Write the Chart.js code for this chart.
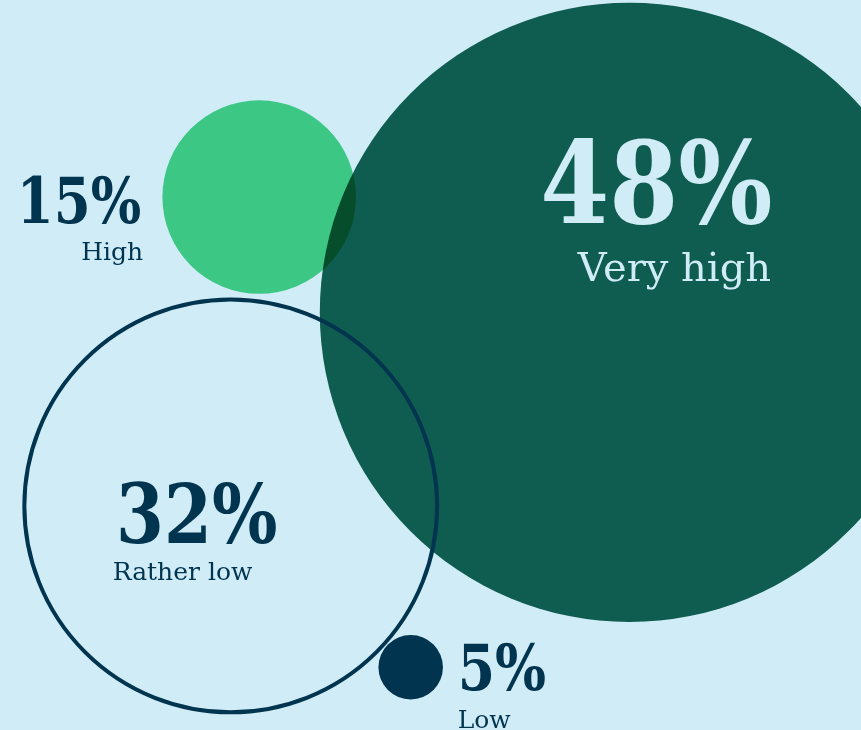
<!DOCTYPE html>
<html>
<head>
<meta charset="utf-8">
<script src="https://cdn.jsdelivr.net/npm/chart.js@4/dist/chart.umd.min.js"></script>
<style>
  html, body { margin: 0; padding: 0; background: #d0ecf7; }
  #wrap { width: 861px; height: 730px; position: relative; }
</style>
</head>
<body>
<div id="wrap"><canvas id="chart"></canvas></div>
<script>
// survey shares, one bubble each
const categories = ['Very high', 'High', 'Rather low', 'Low'];
const shares = [48, 15, 32, 5];
// bubble centres on a 0-100 grid (x from left, y from top)
const xPos = [73.1, 30.1, 26.8, 47.7];
const yPos = [42.8, 27.0, 69.3, 91.4];

const RADIUS_PER_POINT = 6.45;
const BG = '#d0ecf7';
const NAVY = '#01354f';

const styles = {
    'Very high': { fill: '#126352', border: 0, order: 2, multiply: true },
    'High': { fill: '#3cc785', border: 0, order: 3 },
    'Rather low': { fill: 'rgba(0,0,0,0)', stroke: NAVY, border: 4, order: 1 },
    'Low': { fill: NAVY, border: 0, order: 0 }
};

// text placement relative to each bubble centre; sx squeezes the bold figures
const labelStyle = {
    'Very high': { color: BG, num: { dx: 27, dy: -89, size: 114, sx: 0.87, align: 'center' }, name: { dx: 45, dy: -31, size: 40, align: 'center' } },
    'High': { color: NAVY, num: { dx: -118, dy: 26, size: 64, sx: 0.83, align: 'right' }, name: { dx: -116, dy: 63, size: 25, align: 'right' } },
    'Rather low': { color: NAVY, num: { dx: -34, dy: 37, size: 83, sx: 0.83, align: 'center' }, name: { dx: -118, dy: 74, size: 25, align: 'left' } },
    'Low': { color: NAVY, num: { dx: 47, dy: 23, size: 64, sx: 0.84, align: 'left' }, name: { dx: 47, dy: 61, size: 25, align: 'left' } }
};

const FONT = '"Roboto Slab", "DejaVu Serif", serif';

const bgPlugin = {
    id: 'bg',
    beforeDraw(chart) {
        const ctx = chart.ctx;
        ctx.save();
        ctx.fillStyle = BG;
        ctx.fillRect(0, 0, chart.width, chart.height);
        ctx.restore();
    }
};

const blendPlugin = {
    id: 'blend',
    beforeDatasetDraw(chart, args) {
        chart.ctx.save();
        if (chart.data.datasets[args.index].multiply) chart.ctx.globalCompositeOperation = 'multiply';
    },
    afterDatasetDraw(chart) {
        chart.ctx.restore();
    }
};

const labelPlugin = {
    id: 'labels',
    afterDatasetsDraw(chart) {
        const ctx = chart.ctx;
        ctx.save();
        ctx.textBaseline = 'alphabetic';
        categories.forEach((cat, i) => {
            const el = chart.getDatasetMeta(i).data[0];
            const st = labelStyle[cat];
            ctx.fillStyle = st.color;

            ctx.save();
            ctx.translate(el.x + st.num.dx, el.y + st.num.dy);
            ctx.scale(st.num.sx, 1);
            ctx.font = 'bold ' + st.num.size + 'px ' + FONT;
            ctx.textAlign = st.num.align;
            ctx.fillText(shares[i] + '%', 0, 0);
            ctx.restore();

            ctx.font = st.name.size + 'px ' + FONT;
            ctx.textAlign = st.name.align;
            ctx.fillText(cat, el.x + st.name.dx, el.y + st.name.dy);
        });
        ctx.restore();
    }
};

new Chart(document.getElementById('chart').getContext('2d'), {
    type: 'bubble',
    data: {
        datasets: categories.map((cat, i) => ({
            label: cat,
            data: [{ x: xPos[i], y: yPos[i], r: shares[i] * RADIUS_PER_POINT }],
            backgroundColor: styles[cat].fill,
            borderColor: styles[cat].stroke || styles[cat].fill,
            borderWidth: styles[cat].border,
            order: styles[cat].order,
            multiply: !!styles[cat].multiply
        }))
    },
    options: {
        responsive: true,
        maintainAspectRatio: false,
        animation: false,
        events: [],
        layout: { padding: 0, autoPadding: false },
        scales: {
            x: { display: false, min: 0, max: 100 },
            y: { display: false, min: 0, max: 100, reverse: true }
        },
        plugins: {
            legend: { display: false },
            tooltip: { enabled: false }
        }
    },
    plugins: [bgPlugin, blendPlugin, labelPlugin]
});
</script>
</body>
</html>
